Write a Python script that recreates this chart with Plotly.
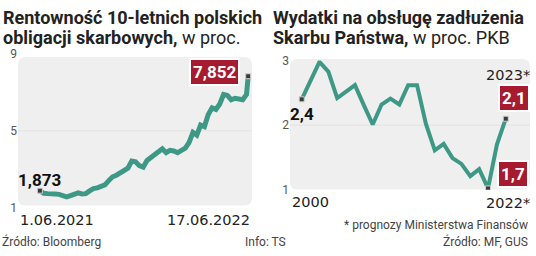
import pandas as pd
import plotly.graph_objects as go

# ---------------- data ----------------
bond_dates = list(pd.date_range("2021-06-01", periods=55, freq="7D").strftime("%Y-%m-%d")) + ["2022-06-17"]
bond_yield = [1.873, 1.74, 1.72, 1.74, 1.70, 1.68, 1.62, 1.55, 1.62, 1.72,
              1.76, 1.70, 1.72, 1.86, 1.98, 2.02, 2.10, 2.18, 2.40, 2.60,
              2.68, 2.78, 2.90, 3.05, 3.42, 3.38, 3.18, 3.10, 3.45, 3.62,
              3.80, 3.95, 4.06, 3.86, 3.98, 3.95, 3.86, 3.98, 4.10, 4.40,
              4.92, 4.78, 5.30, 5.22, 5.85, 6.20, 6.12, 6.40, 6.90, 6.85,
              6.62, 6.70, 6.65, 6.62, 6.90, 7.852]
date_labels = ["1.06.2021", "17.06.2022"]

years = list(range(2000, 2024))
debt_cost = [2.4, 2.69, 2.98, 2.83, 2.42, 2.52, 2.62, 2.31, 2.01, 2.32,
             2.41, 2.32, 2.62, 2.62, 2.02, 1.61, 1.71, 1.49, 1.40, 1.21,
             1.32, 1.02, 1.7, 2.1]
year_labels = ["2000", "2022*", "2023*"]

left_ticks = [1, 5, 9]
right_ticks = [1, 2, 3]

# ---------------- styles ----------------
W, H = 536, 256
TEAL = "#3d9985"
RED = "#a61b2f"
BG = "#efefef"
FONT = "Roboto"
NUMFONT = "DejaVu Sans"

def fmt(v, d):
    return f"{v:.{d}f}".replace(".", ",")

def px_x(p):
    return p / W

def px_y(p):
    return 1 - p / H

def rrect(l, t, r, b, rad=8):
    x0, x1 = px_x(l), px_x(r)
    y0, y1 = px_y(b), px_y(t)
    rx, ry = rad / W, rad / H
    return (f"M {x0+rx},{y1} L {x1-rx},{y1} Q {x1},{y1} {x1},{y1-ry} "
            f"L {x1},{y0+ry} Q {x1},{y0} {x1-rx},{y0} L {x0+rx},{y0} "
            f"Q {x0},{y0} {x0},{y0+ry} L {x0},{y1-ry} Q {x0},{y1} {x0+rx},{y1} Z")

fig = go.Figure()

MARK = dict(symbol="square", size=5, color="#3a3a3a", line=dict(color="#d0d0d0", width=1))

# left chart
fig.add_trace(go.Scatter(x=bond_dates, y=bond_yield, mode="lines",
                         line=dict(color=TEAL, width=5), xaxis="x", yaxis="y",
                         hoverinfo="skip"))
fig.add_trace(go.Scatter(x=[bond_dates[0], bond_dates[-1]], y=[bond_yield[0], bond_yield[-1]],
                         mode="markers", marker=MARK, xaxis="x", yaxis="y", hoverinfo="skip"))
# right chart
fig.add_trace(go.Scatter(x=years, y=debt_cost, mode="lines",
                         line=dict(color=TEAL, width=4), xaxis="x2", yaxis="y2",
                         hoverinfo="skip"))
imin = debt_cost.index(min(debt_cost))
fig.add_trace(go.Scatter(x=[years[0], years[imin], years[-1]],
                         y=[debt_cost[0], debt_cost[imin], debt_cost[-1]],
                         mode="markers", marker=MARK, xaxis="x2", yaxis="y2", hoverinfo="skip"))

shapes = [
    dict(type="path", path=rrect(18, 53, 252, 210), xref="paper", yref="paper",
         fillcolor=BG, line=dict(width=0), layer="below"),
    dict(type="path", path=rrect(290, 55, 530, 193), xref="paper", yref="paper",
         fillcolor=BG, line=dict(width=0), layer="below"),
    dict(type="line", xref="x domain", yref="y", x0=0, x1=1, y0=left_ticks[1], y1=left_ticks[1],
         line=dict(color="#e2e2e2", width=1), layer="below"),
    dict(type="line", xref="x2 domain", yref="y2", x0=0, x1=1, y0=right_ticks[1], y1=right_ticks[1],
         line=dict(color="#e2e2e2", width=1), layer="below"),
]

ann = []
def text(x, y, t, size=12, color="#333", xanchor="left", yanchor="middle", xref="paper", yref="paper",
         xshift=0, yshift=0, family=FONT, **kw):
    ann.append(dict(x=x, y=y, text=t, xref=xref, yref=yref, showarrow=False, xanchor=xanchor,
                    yanchor=yanchor, xshift=xshift, yshift=yshift,
                    font=dict(size=size, color=color, family=family), **kw))

def badge(x, y, t, xref, yref, xanchor, yanchor, xshift, yshift):
    text(x, y, t, size=17, color="white", xanchor=xanchor, yanchor=yanchor, xref=xref, yref=yref,
         xshift=xshift, yshift=yshift, bgcolor=RED, bordercolor="white", borderwidth=2, borderpad=2)

# titles
TS = 18
text(px_x(1), px_y(11), "<b>Rentowność 10-letnich polskich</b>", size=TS, color="#222")
text(px_x(1), px_y(32), "<b>obligacji skarbowych,</b> w proc.", size=TS, color="#222")
text(px_x(271), px_y(11), "<b>Wydatki na obsługę zadłużenia</b>", size=TS, color="#222")
text(px_x(271), px_y(32), "<b>Skarbu Państwa,</b> w proc. PKB", size=TS, color="#222")

# left chart labels
text(bond_dates[0], bond_yield[0], "<b>" + fmt(bond_yield[0], 3) + "</b>", size=17, color="#111",
     xanchor="center", xref="x", yref="y", yshift=11)
badge(bond_dates[-1], bond_yield[-1], "<b>" + fmt(bond_yield[-1], 3) + "</b>", "x", "y",
      "right", "middle", -8, 4)
text(0, px_y(225.5), date_labels[0], size=14.5, color="#222", xanchor="left",
     xref="x domain", yref="paper", family=NUMFONT)
text(1, px_y(225.5), date_labels[1], size=14.5, color="#222", xanchor="right",
     xref="x domain", yref="paper", family=NUMFONT)

# right chart labels
text(years[0], debt_cost[0], "<b>" + fmt(debt_cost[0], 1) + "</b>", size=17, color="#111",
     xanchor="center", xref="x2", yref="y2", yshift=-15)
badge(years[-1], debt_cost[-1], "<b>" + fmt(debt_cost[-1], 1) + "</b>", "x2", "y2",
      "center", "bottom", 8, 7)
badge(years[imin], debt_cost[imin], "<b>" + fmt(debt_cost[-2], 1) + "</b>", "x2", "y2",
      "left", "bottom", 9, 0)
text(0, px_y(206), year_labels[0], size=14.5, color="#222", xanchor="left", xref="x2 domain",
     yref="paper", family=NUMFONT)
text(1, px_y(207), year_labels[1], size=14.5, color="#222", xanchor="right", xref="x2 domain",
     yref="paper", xshift=2, family=NUMFONT)
text(1, px_y(72), year_labels[2], size=14.5, color="#222", xanchor="right", xref="x2 domain",
     yref="paper", xshift=2, family=NUMFONT)

# footers
text(px_x(530), px_y(231), "* prognozy Ministerstwa Finansów", size=12, color="#444", xanchor="right")
text(px_x(530), px_y(248.5), "Źródło: MF, GUS", size=12, color="#444", xanchor="right")
text(px_x(0), px_y(248.5), "Źródło: Bloomberg", size=12, color="#444", xanchor="left")
text(px_x(265), px_y(248.5), "Info: TS", size=12, color="#444", xanchor="center")

axis_common = dict(showgrid=False, zeroline=False, showline=False, fixedrange=True)
fig.update_layout(
    width=W, height=H, autosize=False,
    margin=dict(l=0, r=0, t=0, b=0),
    paper_bgcolor="white", plot_bgcolor="rgba(0,0,0,0)",
    showlegend=False,
    font=dict(family=FONT),
    xaxis=dict(domain=[px_x(18), px_x(252)], range=["2021-04-22", "2022-06-24"], type="date",
               showticklabels=False, ticks="", **axis_common),
    yaxis=dict(domain=[px_y(212), px_y(50)], range=[1, 9], tickvals=left_ticks,
               tickfont=dict(size=12, color="#555", family=FONT), ticks="", **axis_common),
    xaxis2=dict(domain=[px_x(290), px_x(530)], range=[1998.68, 2025.73], anchor="y2",
                showticklabels=False, ticks="", **axis_common),
    yaxis2=dict(domain=[px_y(193.3), px_y(56.7)], range=[1, 3], tickvals=right_ticks, anchor="x2",
                tickfont=dict(size=12, color="#555", family=FONT), ticks="", **axis_common),
    shapes=shapes, annotations=ann,
)

fig.write_html("out.html", config={"displayModeBar": False})
